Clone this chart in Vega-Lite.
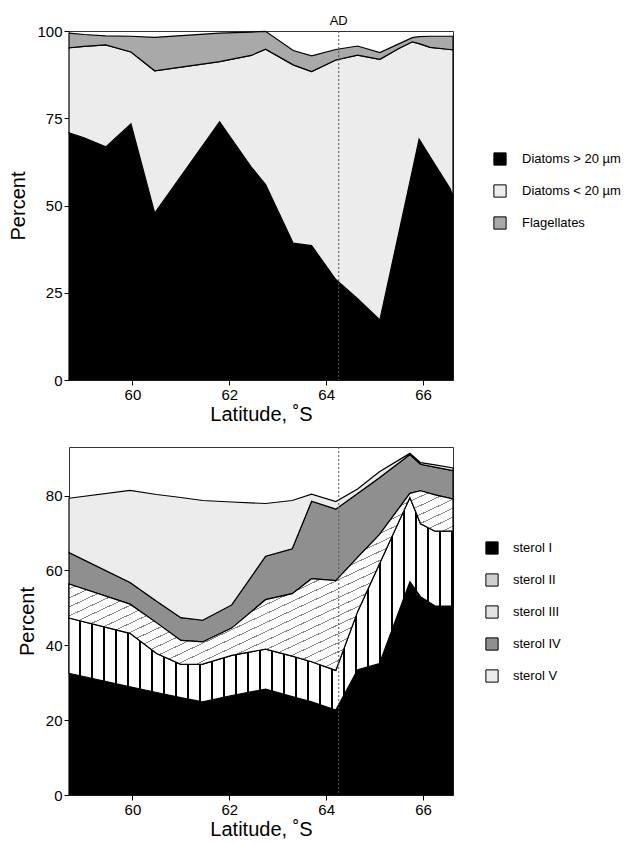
{
  "$schema": "https://vega.github.io/schema/vega-lite/v6.json",
  "padding": {"left": 8, "top": 14, "right": 5, "bottom": 5},
  "spacing": 21,
  "resolve": {"scale": {"color": "independent"}, "legend": {"color": "independent"}},
  "config": {
    "font": "Liberation Sans",
    "view": {"stroke": "#333", "strokeWidth": 1},
    "axis": {"grid": false, "domain": false, "tickColor": "black", "tickSize": 5, "labelColor": "black", "labelFontSize": 15, "titleFontSize": 20, "titleFontWeight": "normal", "titleColor": "black", "labelFont": "Liberation Sans", "titleFont": "Liberation Sans"},
    "legend": {"labelFontSize": 13, "labelColor": "black", "labelFont": "Liberation Sans", "symbolType": "square", "symbolSize": 150, "symbolStrokeColor": "black", "symbolStrokeWidth": 1, "rowPadding": 14}
  },
  "datasets": {
    "phyto": [
      {"lat":58.69,"s":"Diatoms > 20 µm","o":1,"v":70.8},{"lat":58.69,"s":"Diatoms < 20 µm","o":2,"v":24.4},{"lat":58.69,"s":"Flagellates","o":3,"v":4.2},
      {"lat":59.0,"s":"Diatoms > 20 µm","o":1,"v":69.4},{"lat":59.0,"s":"Diatoms < 20 µm","o":2,"v":26.2},{"lat":59.0,"s":"Flagellates","o":3,"v":3.4},
      {"lat":59.45,"s":"Diatoms > 20 µm","o":1,"v":66.8},{"lat":59.45,"s":"Diatoms < 20 µm","o":2,"v":29.2},{"lat":59.45,"s":"Flagellates","o":3,"v":2.6},
      {"lat":59.97,"s":"Diatoms > 20 µm","o":1,"v":73.4},{"lat":59.97,"s":"Diatoms < 20 µm","o":2,"v":20.6},{"lat":59.97,"s":"Flagellates","o":3,"v":4.5},
      {"lat":60.46,"s":"Diatoms > 20 µm","o":1,"v":47.8},{"lat":60.46,"s":"Diatoms < 20 µm","o":2,"v":40.8},{"lat":60.46,"s":"Flagellates","o":3,"v":9.6},
      {"lat":61.8,"s":"Diatoms > 20 µm","o":1,"v":74.0},{"lat":61.8,"s":"Diatoms < 20 µm","o":2,"v":17.2},{"lat":61.8,"s":"Flagellates","o":3,"v":8.2},
      {"lat":62.45,"s":"Diatoms > 20 µm","o":1,"v":61.1},{"lat":62.45,"s":"Diatoms < 20 µm","o":2,"v":31.9},{"lat":62.45,"s":"Flagellates","o":3,"v":6.7},
      {"lat":62.75,"s":"Diatoms > 20 µm","o":1,"v":56.0},{"lat":62.75,"s":"Diatoms < 20 µm","o":2,"v":38.8},{"lat":62.75,"s":"Flagellates","o":3,"v":5.1},
      {"lat":63.32,"s":"Diatoms > 20 µm","o":1,"v":39.2},{"lat":63.32,"s":"Diatoms < 20 µm","o":2,"v":51.1},{"lat":63.32,"s":"Flagellates","o":3,"v":4.1},
      {"lat":63.7,"s":"Diatoms > 20 µm","o":1,"v":38.5},{"lat":63.7,"s":"Diatoms < 20 µm","o":2,"v":49.9},{"lat":63.7,"s":"Flagellates","o":3,"v":4.5},
      {"lat":64.2,"s":"Diatoms > 20 µm","o":1,"v":28.8},{"lat":64.2,"s":"Diatoms < 20 µm","o":2,"v":62.9},{"lat":64.2,"s":"Flagellates","o":3,"v":3.0},
      {"lat":64.65,"s":"Diatoms > 20 µm","o":1,"v":23.3},{"lat":64.65,"s":"Diatoms < 20 µm","o":2,"v":69.8},{"lat":64.65,"s":"Flagellates","o":3,"v":2.6},
      {"lat":65.11,"s":"Diatoms > 20 µm","o":1,"v":17.2},{"lat":65.11,"s":"Diatoms < 20 µm","o":2,"v":74.7},{"lat":65.11,"s":"Flagellates","o":3,"v":1.9},
      {"lat":65.5,"s":"Diatoms > 20 µm","o":1,"v":42.1},{"lat":65.5,"s":"Diatoms < 20 µm","o":2,"v":52.9},{"lat":65.5,"s":"Flagellates","o":3,"v":1.3},
      {"lat":65.78,"s":"Diatoms > 20 µm","o":1,"v":60.0},{"lat":65.78,"s":"Diatoms < 20 µm","o":2,"v":36.9},{"lat":65.78,"s":"Flagellates","o":3,"v":1.2},
      {"lat":65.92,"s":"Diatoms > 20 µm","o":1,"v":69.0},{"lat":65.92,"s":"Diatoms < 20 µm","o":2,"v":27.4},{"lat":65.92,"s":"Flagellates","o":3,"v":2.0},
      {"lat":66.15,"s":"Diatoms > 20 µm","o":1,"v":63.9},{"lat":66.15,"s":"Diatoms < 20 µm","o":2,"v":31.4},{"lat":66.15,"s":"Flagellates","o":3,"v":3.2},
      {"lat":66.56,"s":"Diatoms > 20 µm","o":1,"v":54.9},{"lat":66.56,"s":"Diatoms < 20 µm","o":2,"v":39.8},{"lat":66.56,"s":"Flagellates","o":3,"v":3.8},
      {"lat":66.62,"s":"Diatoms > 20 µm","o":1,"v":52.5},{"lat":66.62,"s":"Diatoms < 20 µm","o":2,"v":42.1},{"lat":66.62,"s":"Flagellates","o":3,"v":3.9}
    ],
    "sterol": [
      {"lat":58.69,"s":"sterol I","o":1,"v":32.5},{"lat":58.69,"s":"sterol II","o":2,"v":14.8},{"lat":58.69,"s":"sterol III","o":3,"v":9.1},{"lat":58.69,"s":"sterol IV","o":4,"v":8.4},{"lat":58.69,"s":"sterol V","o":5,"v":14.5},
      {"lat":59.95,"s":"sterol I","o":1,"v":28.9},{"lat":59.95,"s":"sterol II","o":2,"v":14.3},{"lat":59.95,"s":"sterol III","o":3,"v":7.8},{"lat":59.95,"s":"sterol IV","o":4,"v":5.8},{"lat":59.95,"s":"sterol V","o":5,"v":24.6},
      {"lat":60.5,"s":"sterol I","o":1,"v":27.4},{"lat":60.5,"s":"sterol II","o":2,"v":10.4},{"lat":60.5,"s":"sterol III","o":3,"v":8.2},{"lat":60.5,"s":"sterol IV","o":4,"v":5.8},{"lat":60.5,"s":"sterol V","o":5,"v":28.5},
      {"lat":61.0,"s":"sterol I","o":1,"v":26.0},{"lat":61.0,"s":"sterol II","o":2,"v":8.9},{"lat":61.0,"s":"sterol III","o":3,"v":6.4},{"lat":61.0,"s":"sterol IV","o":4,"v":6.1},{"lat":61.0,"s":"sterol V","o":5,"v":32.1},
      {"lat":61.45,"s":"sterol I","o":1,"v":24.9},{"lat":61.45,"s":"sterol II","o":2,"v":10.1},{"lat":61.45,"s":"sterol III","o":3,"v":5.9},{"lat":61.45,"s":"sterol IV","o":4,"v":5.8},{"lat":61.45,"s":"sterol V","o":5,"v":32.0},
      {"lat":62.05,"s":"sterol I","o":1,"v":26.6},{"lat":62.05,"s":"sterol II","o":2,"v":10.7},{"lat":62.05,"s":"sterol III","o":3,"v":7.3},{"lat":62.05,"s":"sterol IV","o":4,"v":6.2},{"lat":62.05,"s":"sterol V","o":5,"v":27.5},
      {"lat":62.75,"s":"sterol I","o":1,"v":28.3},{"lat":62.75,"s":"sterol II","o":2,"v":10.7},{"lat":62.75,"s":"sterol III","o":3,"v":13.2},{"lat":62.75,"s":"sterol IV","o":4,"v":11.6},{"lat":62.75,"s":"sterol V","o":5,"v":14.1},
      {"lat":63.3,"s":"sterol I","o":1,"v":26.3},{"lat":63.3,"s":"sterol II","o":2,"v":10.8},{"lat":63.3,"s":"sterol III","o":3,"v":16.7},{"lat":63.3,"s":"sterol IV","o":4,"v":12.0},{"lat":63.3,"s":"sterol V","o":5,"v":12.9},
      {"lat":63.7,"s":"sterol I","o":1,"v":24.9},{"lat":63.7,"s":"sterol II","o":2,"v":10.7},{"lat":63.7,"s":"sterol III","o":3,"v":22.2},{"lat":63.7,"s":"sterol IV","o":4,"v":20.7},{"lat":63.7,"s":"sterol V","o":5,"v":1.9},
      {"lat":64.2,"s":"sterol I","o":1,"v":22.7},{"lat":64.2,"s":"sterol II","o":2,"v":10.6},{"lat":64.2,"s":"sterol III","o":3,"v":24.0},{"lat":64.2,"s":"sterol IV","o":4,"v":19.1},{"lat":64.2,"s":"sterol V","o":5,"v":2.0},
      {"lat":64.65,"s":"sterol I","o":1,"v":33.5},{"lat":64.65,"s":"sterol II","o":2,"v":15.5},{"lat":64.65,"s":"sterol III","o":3,"v":14.5},{"lat":64.65,"s":"sterol IV","o":4,"v":17.1},{"lat":64.65,"s":"sterol V","o":5,"v":1.2},
      {"lat":65.1,"s":"sterol I","o":1,"v":35.1},{"lat":65.1,"s":"sterol II","o":2,"v":26.6},{"lat":65.1,"s":"sterol III","o":3,"v":7.9},{"lat":65.1,"s":"sterol IV","o":4,"v":15.2},{"lat":65.1,"s":"sterol V","o":5,"v":1.6},
      {"lat":65.73,"s":"sterol I","o":1,"v":57.0},{"lat":65.73,"s":"sterol II","o":2,"v":22.5},{"lat":65.73,"s":"sterol III","o":3,"v":1.1},{"lat":65.73,"s":"sterol IV","o":4,"v":10.4},{"lat":65.73,"s":"sterol V","o":5,"v":0.3},
      {"lat":65.95,"s":"sterol I","o":1,"v":53.0},{"lat":65.95,"s":"sterol II","o":2,"v":19.5},{"lat":65.95,"s":"sterol III","o":3,"v":8.8},{"lat":65.95,"s":"sterol IV","o":4,"v":7.1},{"lat":65.95,"s":"sterol V","o":5,"v":0.4},
      {"lat":66.25,"s":"sterol I","o":1,"v":50.5},{"lat":66.25,"s":"sterol II","o":2,"v":20.0},{"lat":66.25,"s":"sterol III","o":3,"v":9.7},{"lat":66.25,"s":"sterol IV","o":4,"v":7.4},{"lat":66.25,"s":"sterol V","o":5,"v":0.6},
      {"lat":66.62,"s":"sterol I","o":1,"v":50.5},{"lat":66.62,"s":"sterol II","o":2,"v":20.1},{"lat":66.62,"s":"sterol III","o":3,"v":8.5},{"lat":66.62,"s":"sterol IV","o":4,"v":7.6},{"lat":66.62,"s":"sterol V","o":5,"v":0.7}
    ],
    "ad": [{"lat": 64.26, "label": "AD"}]
  },
  "vconcat": [
    {
      "width": 384,
      "height": 349,
      "layer": [
        {
          "data": {"name": "phyto"},
          "mark": {"type": "area", "stroke": "black", "strokeWidth": 1.2, "interpolate": "linear"},
          "encoding": {
            "x": {"field": "lat", "type": "quantitative", "scale": {"domain": [58.69, 66.62], "nice": false, "zero": false}, "axis": {"values": [60, 62, 64, 66], "title": "Latitude, ˚S", "titlePadding": 2}},
            "y": {"field": "v", "type": "quantitative", "stack": "zero", "scale": {"domain": [0, 100], "nice": false}, "axis": {"values": [0, 25, 50, 75, 100], "title": "Percent", "titlePadding": 8}},
            "order": {"field": "o", "type": "quantitative"},
            "color": {"field": "s", "type": "nominal", "scale": {"domain": ["Diatoms > 20 µm", "Diatoms < 20 µm", "Flagellates"], "range": ["black", "#ececec", "#a9a9a9"]}, "legend": {"title": null, "orient": "none", "legendX": 424, "legendY": 121, "labelOffset": 15}}
          }
        },
        {
          "data": {"name": "ad"},
          "mark": {"type": "rule", "color": "#555", "strokeWidth": 1, "strokeDash": [2, 2]},
          "encoding": {"x": {"field": "lat", "type": "quantitative"}}
        },
        {
          "data": {"name": "ad"},
          "mark": {"type": "text", "fontSize": 13, "baseline": "bottom", "dy": -3, "color": "black"},
          "encoding": {"x": {"field": "lat", "type": "quantitative"}, "y": {"datum": 100}, "text": {"field": "label"}}
        }
      ]
    },
    {
      "width": 384,
      "height": 348,
      "layer": [
        {
          "data": {"name": "sterol"},
          "mark": {"type": "area", "stroke": "black", "strokeWidth": 1.2, "interpolate": "linear"},
          "encoding": {
            "x": {"field": "lat", "type": "quantitative", "scale": {"domain": [58.69, 66.62], "nice": false, "zero": false}, "axis": {"values": [60, 62, 64, 66], "title": "Latitude, ˚S", "titlePadding": 2}},
            "y": {"field": "v", "type": "quantitative", "stack": "zero", "scale": {"domain": [0, 93], "nice": false}, "axis": {"values": [0, 20, 40, 60, 80], "title": "Percent", "titlePadding": 8}},
            "order": {"field": "o", "type": "quantitative"},
            "color": {"field": "s", "type": "nominal", "scale": {"domain": ["sterol I", "sterol II", "sterol III", "sterol IV", "sterol V"], "range": ["black", "#cfcfcf", "#e2e2e2", "#8f8f8f", "#ececec"]}, "legend": {"title": null, "orient": "none", "legendX": 416, "legendY": 94, "labelOffset": 14}}
          }
        },
        {
          "data": {"name": "sterol"},
          "transform": [
            {"stack": "v", "groupby": ["lat"], "sort": [{"field": "o"}], "as": ["v0", "v1"]},
            {"filter": "datum.s === 'sterol II'"}
          ],
          "mark": {"type": "area", "stroke": "black", "strokeWidth": 1.2, "interpolate": "linear", "fill": {"gradient": "linear", "x1": 0, "y1": 0, "x2": 1, "y2": 0, "stops": [
                {"offset":0,"color":"white"},{"offset":0.0256,"color":"white"},{"offset":0.0256,"color":"black"},{"offset":0.03125,"color":"black"},
                {"offset":0.03125,"color":"white"},{"offset":0.0569,"color":"white"},{"offset":0.0569,"color":"black"},{"offset":0.0625,"color":"black"},
                {"offset":0.0625,"color":"white"},{"offset":0.0881,"color":"white"},{"offset":0.0881,"color":"black"},{"offset":0.09375,"color":"black"},
                {"offset":0.09375,"color":"white"},{"offset":0.1194,"color":"white"},{"offset":0.1194,"color":"black"},{"offset":0.125,"color":"black"},
                {"offset":0.125,"color":"white"},{"offset":0.1506,"color":"white"},{"offset":0.1506,"color":"black"},{"offset":0.15625,"color":"black"},
                {"offset":0.15625,"color":"white"},{"offset":0.1819,"color":"white"},{"offset":0.1819,"color":"black"},{"offset":0.1875,"color":"black"},
                {"offset":0.1875,"color":"white"},{"offset":0.2131,"color":"white"},{"offset":0.2131,"color":"black"},{"offset":0.21875,"color":"black"},
                {"offset":0.21875,"color":"white"},{"offset":0.2444,"color":"white"},{"offset":0.2444,"color":"black"},{"offset":0.25,"color":"black"},
                {"offset":0.25,"color":"white"},{"offset":0.2756,"color":"white"},{"offset":0.2756,"color":"black"},{"offset":0.28125,"color":"black"},
                {"offset":0.28125,"color":"white"},{"offset":0.3069,"color":"white"},{"offset":0.3069,"color":"black"},{"offset":0.3125,"color":"black"},
                {"offset":0.3125,"color":"white"},{"offset":0.3381,"color":"white"},{"offset":0.3381,"color":"black"},{"offset":0.34375,"color":"black"},
                {"offset":0.34375,"color":"white"},{"offset":0.3694,"color":"white"},{"offset":0.3694,"color":"black"},{"offset":0.375,"color":"black"},
                {"offset":0.375,"color":"white"},{"offset":0.4006,"color":"white"},{"offset":0.4006,"color":"black"},{"offset":0.40625,"color":"black"},
                {"offset":0.40625,"color":"white"},{"offset":0.4319,"color":"white"},{"offset":0.4319,"color":"black"},{"offset":0.4375,"color":"black"},
                {"offset":0.4375,"color":"white"},{"offset":0.4631,"color":"white"},{"offset":0.4631,"color":"black"},{"offset":0.46875,"color":"black"},
                {"offset":0.46875,"color":"white"},{"offset":0.4944,"color":"white"},{"offset":0.4944,"color":"black"},{"offset":0.5,"color":"black"},
                {"offset":0.5,"color":"white"},{"offset":0.5256,"color":"white"},{"offset":0.5256,"color":"black"},{"offset":0.53125,"color":"black"},
                {"offset":0.53125,"color":"white"},{"offset":0.5569,"color":"white"},{"offset":0.5569,"color":"black"},{"offset":0.5625,"color":"black"},
                {"offset":0.5625,"color":"white"},{"offset":0.5881,"color":"white"},{"offset":0.5881,"color":"black"},{"offset":0.59375,"color":"black"},
                {"offset":0.59375,"color":"white"},{"offset":0.6194,"color":"white"},{"offset":0.6194,"color":"black"},{"offset":0.625,"color":"black"},
                {"offset":0.625,"color":"white"},{"offset":0.6506,"color":"white"},{"offset":0.6506,"color":"black"},{"offset":0.65625,"color":"black"},
                {"offset":0.65625,"color":"white"},{"offset":0.6819,"color":"white"},{"offset":0.6819,"color":"black"},{"offset":0.6875,"color":"black"},
                {"offset":0.6875,"color":"white"},{"offset":0.7131,"color":"white"},{"offset":0.7131,"color":"black"},{"offset":0.71875,"color":"black"},
                {"offset":0.71875,"color":"white"},{"offset":0.7444,"color":"white"},{"offset":0.7444,"color":"black"},{"offset":0.75,"color":"black"},
                {"offset":0.75,"color":"white"},{"offset":0.7756,"color":"white"},{"offset":0.7756,"color":"black"},{"offset":0.78125,"color":"black"},
                {"offset":0.78125,"color":"white"},{"offset":0.8069,"color":"white"},{"offset":0.8069,"color":"black"},{"offset":0.8125,"color":"black"},
                {"offset":0.8125,"color":"white"},{"offset":0.8381,"color":"white"},{"offset":0.8381,"color":"black"},{"offset":0.84375,"color":"black"},
                {"offset":0.84375,"color":"white"},{"offset":0.8694,"color":"white"},{"offset":0.8694,"color":"black"},{"offset":0.875,"color":"black"},
                {"offset":0.875,"color":"white"},{"offset":0.9006,"color":"white"},{"offset":0.9006,"color":"black"},{"offset":0.90625,"color":"black"},
                {"offset":0.90625,"color":"white"},{"offset":0.9319,"color":"white"},{"offset":0.9319,"color":"black"},{"offset":0.9375,"color":"black"},
                {"offset":0.9375,"color":"white"},{"offset":0.9631,"color":"white"},{"offset":0.9631,"color":"black"},{"offset":0.96875,"color":"black"},
                {"offset":0.96875,"color":"white"},{"offset":0.9944,"color":"white"},{"offset":0.9944,"color":"black"},{"offset":1,"color":"black"}
              ]}},
          "encoding": {
            "x": {"field": "lat", "type": "quantitative"},
            "y": {"field": "v1", "type": "quantitative"},
            "y2": {"field": "v0"}
          }
        },
        {
          "data": {"name": "sterol"},
          "transform": [
            {"stack": "v", "groupby": ["lat"], "sort": [{"field": "o"}], "as": ["v0", "v1"]},
            {"filter": "datum.s === 'sterol III'"}
          ],
          "mark": {"type": "area", "stroke": "black", "strokeWidth": 1.2, "interpolate": "linear", "fill": {"gradient": "linear", "x1": 0, "y1": 0, "x2": 1, "y2": 1, "stops": [
                {"offset":0,"color":"white"},{"offset":0.022,"color":"white"},{"offset":0.022,"color":"#888"},{"offset":0.025,"color":"#888"},
                {"offset":0.025,"color":"white"},{"offset":0.047,"color":"white"},{"offset":0.047,"color":"#888"},{"offset":0.05,"color":"#888"},
                {"offset":0.05,"color":"white"},{"offset":0.072,"color":"white"},{"offset":0.072,"color":"#888"},{"offset":0.075,"color":"#888"},
                {"offset":0.075,"color":"white"},{"offset":0.097,"color":"white"},{"offset":0.097,"color":"#888"},{"offset":0.1,"color":"#888"},
                {"offset":0.1,"color":"white"},{"offset":0.122,"color":"white"},{"offset":0.122,"color":"#888"},{"offset":0.125,"color":"#888"},
                {"offset":0.125,"color":"white"},{"offset":0.147,"color":"white"},{"offset":0.147,"color":"#888"},{"offset":0.15,"color":"#888"},
                {"offset":0.15,"color":"white"},{"offset":0.172,"color":"white"},{"offset":0.172,"color":"#888"},{"offset":0.175,"color":"#888"},
                {"offset":0.175,"color":"white"},{"offset":0.197,"color":"white"},{"offset":0.197,"color":"#888"},{"offset":0.2,"color":"#888"},
                {"offset":0.2,"color":"white"},{"offset":0.222,"color":"white"},{"offset":0.222,"color":"#888"},{"offset":0.225,"color":"#888"},
                {"offset":0.225,"color":"white"},{"offset":0.247,"color":"white"},{"offset":0.247,"color":"#888"},{"offset":0.25,"color":"#888"},
                {"offset":0.25,"color":"white"},{"offset":0.272,"color":"white"},{"offset":0.272,"color":"#888"},{"offset":0.275,"color":"#888"},
                {"offset":0.275,"color":"white"},{"offset":0.297,"color":"white"},{"offset":0.297,"color":"#888"},{"offset":0.3,"color":"#888"},
                {"offset":0.3,"color":"white"},{"offset":0.322,"color":"white"},{"offset":0.322,"color":"#888"},{"offset":0.325,"color":"#888"},
                {"offset":0.325,"color":"white"},{"offset":0.347,"color":"white"},{"offset":0.347,"color":"#888"},{"offset":0.35,"color":"#888"},
                {"offset":0.35,"color":"white"},{"offset":0.372,"color":"white"},{"offset":0.372,"color":"#888"},{"offset":0.375,"color":"#888"},
                {"offset":0.375,"color":"white"},{"offset":0.397,"color":"white"},{"offset":0.397,"color":"#888"},{"offset":0.4,"color":"#888"},
                {"offset":0.4,"color":"white"},{"offset":0.422,"color":"white"},{"offset":0.422,"color":"#888"},{"offset":0.425,"color":"#888"},
                {"offset":0.425,"color":"white"},{"offset":0.447,"color":"white"},{"offset":0.447,"color":"#888"},{"offset":0.45,"color":"#888"},
                {"offset":0.45,"color":"white"},{"offset":0.472,"color":"white"},{"offset":0.472,"color":"#888"},{"offset":0.475,"color":"#888"},
                {"offset":0.475,"color":"white"},{"offset":0.497,"color":"white"},{"offset":0.497,"color":"#888"},{"offset":0.5,"color":"#888"},
                {"offset":0.5,"color":"white"},{"offset":0.522,"color":"white"},{"offset":0.522,"color":"#888"},{"offset":0.525,"color":"#888"},
                {"offset":0.525,"color":"white"},{"offset":0.547,"color":"white"},{"offset":0.547,"color":"#888"},{"offset":0.55,"color":"#888"},
                {"offset":0.55,"color":"white"},{"offset":0.572,"color":"white"},{"offset":0.572,"color":"#888"},{"offset":0.575,"color":"#888"},
                {"offset":0.575,"color":"white"},{"offset":0.597,"color":"white"},{"offset":0.597,"color":"#888"},{"offset":0.6,"color":"#888"},
                {"offset":0.6,"color":"white"},{"offset":0.622,"color":"white"},{"offset":0.622,"color":"#888"},{"offset":0.625,"color":"#888"},
                {"offset":0.625,"color":"white"},{"offset":0.647,"color":"white"},{"offset":0.647,"color":"#888"},{"offset":0.65,"color":"#888"},
                {"offset":0.65,"color":"white"},{"offset":0.672,"color":"white"},{"offset":0.672,"color":"#888"},{"offset":0.675,"color":"#888"},
                {"offset":0.675,"color":"white"},{"offset":0.697,"color":"white"},{"offset":0.697,"color":"#888"},{"offset":0.7,"color":"#888"},
                {"offset":0.7,"color":"white"},{"offset":0.722,"color":"white"},{"offset":0.722,"color":"#888"},{"offset":0.725,"color":"#888"},
                {"offset":0.725,"color":"white"},{"offset":0.747,"color":"white"},{"offset":0.747,"color":"#888"},{"offset":0.75,"color":"#888"},
                {"offset":0.75,"color":"white"},{"offset":0.772,"color":"white"},{"offset":0.772,"color":"#888"},{"offset":0.775,"color":"#888"},
                {"offset":0.775,"color":"white"},{"offset":0.797,"color":"white"},{"offset":0.797,"color":"#888"},{"offset":0.8,"color":"#888"},
                {"offset":0.8,"color":"white"},{"offset":0.822,"color":"white"},{"offset":0.822,"color":"#888"},{"offset":0.825,"color":"#888"},
                {"offset":0.825,"color":"white"},{"offset":0.847,"color":"white"},{"offset":0.847,"color":"#888"},{"offset":0.85,"color":"#888"},
                {"offset":0.85,"color":"white"},{"offset":0.872,"color":"white"},{"offset":0.872,"color":"#888"},{"offset":0.875,"color":"#888"},
                {"offset":0.875,"color":"white"},{"offset":0.897,"color":"white"},{"offset":0.897,"color":"#888"},{"offset":0.9,"color":"#888"},
                {"offset":0.9,"color":"white"},{"offset":0.922,"color":"white"},{"offset":0.922,"color":"#888"},{"offset":0.925,"color":"#888"},
                {"offset":0.925,"color":"white"},{"offset":0.947,"color":"white"},{"offset":0.947,"color":"#888"},{"offset":0.95,"color":"#888"},
                {"offset":0.95,"color":"white"},{"offset":0.972,"color":"white"},{"offset":0.972,"color":"#888"},{"offset":0.975,"color":"#888"},
                {"offset":0.975,"color":"white"},{"offset":0.997,"color":"white"},{"offset":0.997,"color":"#888"},{"offset":1,"color":"#888"}
              ]}},
          "encoding": {
            "x": {"field": "lat", "type": "quantitative"},
            "y": {"field": "v1", "type": "quantitative"},
            "y2": {"field": "v0"}
          }
        },
        {
          "data": {"name": "ad"},
          "mark": {"type": "rule", "color": "#555", "strokeWidth": 1, "strokeDash": [2, 2]},
          "encoding": {"x": {"field": "lat", "type": "quantitative"}}
        }
      ]
    }
  ]
}
